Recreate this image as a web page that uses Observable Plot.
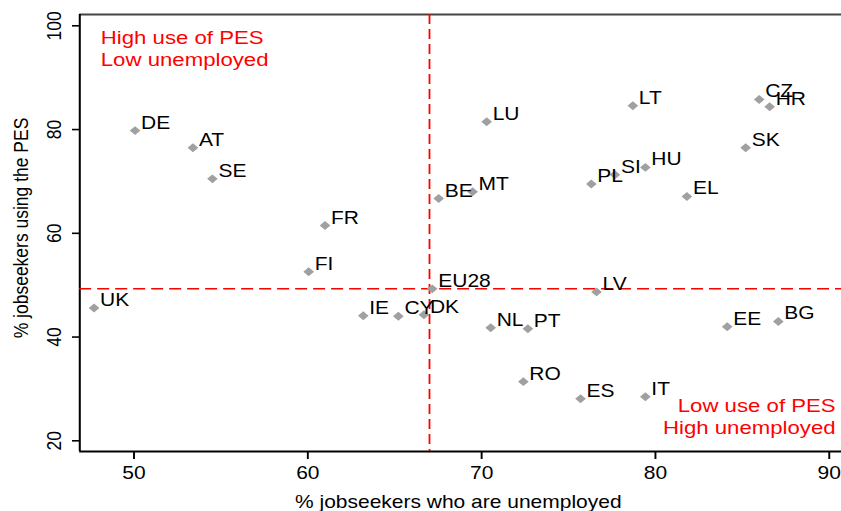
<!DOCTYPE html>
<html>
<head>
<meta charset="utf-8">
<script src="https://cdn.jsdelivr.net/npm/d3@7"></script>
<script src="https://cdn.jsdelivr.net/npm/@observablehq/plot@0.6"></script>
<style>
  html, body { margin: 0; padding: 0; background: #fff; }
  #chart { width: 841px; height: 511px; overflow: hidden; }
</style>
</head>
<body>
<div id="chart"></div>
<script>
// ---- data ----
const countries  = ["DE","AT","SE","FR","BE","MT","LU","LT","CZ","HR","SK","PL","SI","HU","EL","UK","FI","EU28","IE","CY","DK","NL","PT","RO","ES","IT","LV","EE","BG"];
const unemployed = [50.06,53.39,54.51,60.99,67.53,69.48,70.29,78.70,85.97,86.57,85.19,76.31,77.67,79.42,81.81,47.70,60.05,67.16,63.19,65.21,66.68,70.52,72.66,72.40,75.69,79.42,76.61,84.13,87.07];
const usingPES   = [79.8,76.5,70.5,61.5,66.7,68.0,81.5,84.6,85.8,84.4,76.5,69.5,71.3,72.7,67.1,45.6,52.6,49.3,44.1,44.0,44.3,41.8,41.6,31.4,28.1,28.5,48.7,42.0,43.0];
const xTicks = [50, 60, 70, 80, 90];
const yTicks = [20, 40, 60, 80, 100];
const refUnemployed = [67.0];
const refPES = [49.3];
const xTitle = "% jobseekers who are unemployed";
const yTitle = "% jobseekers using the PES";
const noteTopLeft = ["High use of PES\nLow unemployed"];
const noteBottomRight = ["Low use of PES\nHigh unemployed"];

const xDomain = [46.88, 90.71];
const yDomain = [17.94, 102.18];

const points = countries.map((c, i) => ({country: c, x: unemployed[i], y: usingPES[i]}));

// The reference is horizontally stretched (~1.2x); draw at natural width then stretch.
const W0 = 701, H = 511, W = 841;
const FONT = 17.5;

const svg = Plot.plot({
  width: W0,
  height: H,
  marginLeft: 66,
  marginRight: 0,
  marginTop: 14,
  marginBottom: 60,
  style: {fontFamily: "'Liberation Sans', Arial, Helvetica, sans-serif", fontSize: FONT + "px", color: "#000", background: "#fff"},
  x: {domain: xDomain, label: null},
  y: {domain: yDomain, label: null},
  marks: [
    // frame lines
    Plot.ruleY([yDomain[1]], {stroke: "#444", strokeWidth: 2}),
    Plot.ruleX([xDomain[0]], {stroke: "#000", strokeWidth: 1.7}),
    Plot.ruleY([yDomain[0]], {stroke: "#000", strokeWidth: 2}),
    // axes
    Plot.axisX(xTicks, {label: null, tickSize: 8, tickPadding: 7.5, stroke: "#000", strokeWidth: 1.6, fill: "#000", fontSize: FONT}),
    Plot.axisY(yTicks, {label: null, tickSize: 6, tickFormat: () => "", stroke: "#000", strokeWidth: 1.6}),
    Plot.text(yTicks, {y: d => d, text: d => String(d), frameAnchor: "left", rotate: -90, dx: -21.4, textAnchor: "middle", lineAnchor: "middle", fontSize: FONT, fill: "#000"}),
    Plot.text([xTitle], {frameAnchor: "bottom", dx: -2, dy: 56, lineAnchor: "bottom", textAnchor: "middle", fontSize: FONT, fill: "#000"}),
    Plot.text([yTitle], {frameAnchor: "left", rotate: -90, dx: -49, dy: -5, lineAnchor: "middle", textAnchor: "middle", fontSize: FONT, fill: "#000"}),
    // reference lines
    Plot.ruleX(refUnemployed, {stroke: "#ff0000", strokeWidth: 1.5, strokeDasharray: "10,5"}),
    Plot.ruleY(refPES, {stroke: "#ff0000", strokeWidth: 1.5, strokeDasharray: "10,5"}),
    // quadrant notes
    Plot.text(noteTopLeft, {frameAnchor: "top-left", dx: 17.5, dy: 51, lineAnchor: "bottom", textAnchor: "start", lineHeight: 1.15, fill: "#ff0000", fontSize: 18.5}),
    Plot.text(noteBottomRight, {frameAnchor: "bottom-right", dx: -5, dy: -18, lineAnchor: "bottom", textAnchor: "end", lineHeight: 1.15, fill: "#ff0000", fontSize: 18.5}),
    // points and labels
    Plot.dot(points, {x: "x", y: "y", symbol: "diamond2", r: 4, fill: "#a0a0a0", stroke: "none"}),
    Plot.text(points, {x: "x", y: "y", text: "country", dx: 5, dy: -2, lineAnchor: "bottom", textAnchor: "start", fontSize: FONT, fill: "#000"})
  ]
});

svg.setAttribute("width", W);
svg.setAttribute("height", H);
svg.setAttribute("viewBox", `0 0 ${W0} ${H}`);
svg.setAttribute("preserveAspectRatio", "none");
svg.style.width = W + "px";
svg.style.height = H + "px";
svg.style.maxWidth = "none";
document.getElementById("chart").appendChild(svg);
</script>
</body>
</html>
